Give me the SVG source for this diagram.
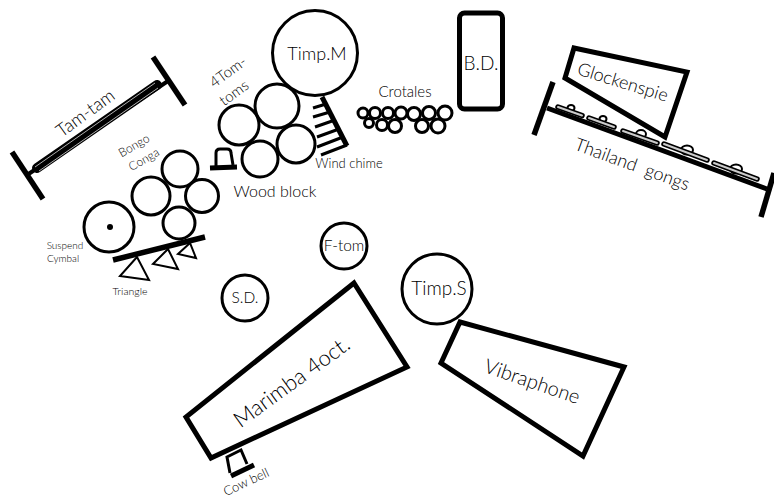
<svg xmlns="http://www.w3.org/2000/svg" width="774" height="500" viewBox="0 0 774 500">
<style>
text{font-family:"Lato","Liberation Sans",sans-serif;font-weight:300;fill:#000;text-anchor:middle}
.c{fill:none;stroke:#000;stroke-width:3}
.t{fill:none;stroke:#000;stroke-width:2}
.k{fill:none;stroke:#000;stroke-width:3}
.p{fill:none;stroke:#000;stroke-width:5}
.b{fill:none;stroke:#000;stroke-width:5.5}
.l{fill:none;stroke:#000;stroke-width:3}
.d{fill:#fff;stroke:#000;stroke-width:2}
.o{stroke:#000;stroke-width:5.5;stroke-linecap:round}
.i{stroke:#ccc;stroke-width:2;stroke-linecap:round}
</style>
<rect width="774" height="500" fill="#fff"/>
<g id="tam-tam">
<line class="b" x1="12" y1="152" x2="43" y2="199"/>
<line class="b" x1="153" y1="57" x2="185" y2="105"/>
<line x1="27" y1="175" x2="168" y2="81" stroke="#000" stroke-width="4"/>
<line x1="37" y1="168" x2="157" y2="85" stroke="#000" stroke-width="10" stroke-linecap="round"/>
<line x1="35" y1="167" x2="155" y2="83" stroke="#ddd" stroke-width="0.8"/>
<line x1="39" y1="171" x2="158" y2="88" stroke="#ddd" stroke-width="0.8"/>
<text transform="translate(89 118) rotate(-36)" font-size="18">Tam-tam</text>
</g>
<g id="bongo-conga">
<circle class="c" cx="151" cy="196" r="19"/>
<circle class="c" cx="180" cy="169" r="18"/>
<circle class="c" cx="202" cy="196" r="16.5"/>
<circle class="c" cx="179" cy="223" r="16"/>
<text transform="translate(136 149) rotate(-30)" font-size="12">Bongo</text>
<text transform="translate(146 163) rotate(-30)" font-size="12">Conga</text>
</g>
<g id="suspend-cymbal">
<circle class="c" cx="109" cy="227" r="25"/>
<circle cx="110" cy="227" r="3" fill="#000"/>
<text x="65" y="249" font-size="10">Suspend</text>
<text x="63" y="262" font-size="10">Cymbal</text>
</g>
<g id="triangle">
<line class="b" x1="113" y1="260" x2="205" y2="237"/>
<polygon class="t" points="137,257 120,276 149,280"/>
<polygon class="t" points="168,249 153,264 178,269"/>
<polygon class="t" points="190,243 178,254 196,258"/>
<text x="130" y="295" font-size="10.5">Triangle</text>
</g>
<g id="timp-m">
<circle class="c" cx="315" cy="53" r="42.5"/>
<text x="317" y="60" font-size="18">Timp.M</text>
</g>
<g id="tom-toms">
<circle class="c" cx="277" cy="106" r="22"/>
<circle class="c" cx="239" cy="125" r="20"/>
<circle class="c" cx="296" cy="144" r="19"/>
<circle class="c" cx="260" cy="159" r="18"/>
<text transform="translate(231 76) rotate(-36)" font-size="15">4Tom-</text>
<text transform="translate(237 97) rotate(-36)" font-size="15">toms</text>
</g>
<g id="wind-chime">
<line class="p" x1="322" y1="97" x2="347" y2="146"/>
<path class="l" d="M313 108L326 104M313 117L330 112M315 127L335 120M317 137L339 129M317 147L343 137M321 155L347 145"/>
<text x="349" y="168" font-size="13">Wind chime</text>
</g>
<g id="wood-block">
<line class="p" x1="210" y1="168" x2="237" y2="167"/>
<path class="l" d="M216 166V153Q216 149 220 149H227Q231 149 231 153L233 165"/>
<text x="275" y="197" font-size="16">Wood block</text>
</g>
<g id="crotales">
<circle class="k" cx="363" cy="113" r="5"/><circle class="k" cx="375" cy="113" r="5.500"/><circle class="k" cx="388" cy="113" r="5.500"/><circle class="k" cx="401" cy="113" r="6"/><circle class="k" cx="414" cy="114" r="6.500"/><circle class="k" cx="429" cy="113" r="6.500"/><circle class="k" cx="445" cy="113" r="7"/>
<circle class="k" cx="369" cy="123" r="4.500"/><circle class="k" cx="382" cy="125" r="5.500"/><circle class="k" cx="395" cy="126" r="6.500"/><circle class="k" cx="422" cy="126" r="6.500"/><circle class="k" cx="438" cy="126" r="7"/>
<text x="405" y="97" font-size="15">Crotales</text>
</g>
<g id="bass-drum">
<rect class="p" x="459.500" y="13" width="43" height="96" rx="5"/>
<text x="481" y="70" font-size="19">B.D.</text>
</g>
<g id="glockenspiel">
<polygon class="p" points="574,48 687,72 665,137 565,78"/>
<text transform="translate(621 88) rotate(17)" font-size="18">Glockenspie</text>
</g>
<g id="thailand-gongs">
<line class="b" x1="553" y1="82" x2="534" y2="135"/>
<line class="b" x1="774" y1="173" x2="761" y2="217"/>
<line class="p" x1="547" y1="108" x2="767" y2="189"/>
<ellipse class="d" cx="571" cy="108" rx="3.500" ry="3"/>
<ellipse class="d" cx="603" cy="119" rx="3.500" ry="3"/>
<ellipse class="d" cx="641" cy="134" rx="5" ry="4"/>
<ellipse class="d" cx="687" cy="150" rx="6" ry="4.500"/>
<ellipse class="d" cx="736" cy="169" rx="6" ry="4.500"/>
<line class="o" x1="558" y1="107" x2="582" y2="115.500"/>
<line class="o" x1="589" y1="118" x2="614" y2="127"/>
<line class="o" x1="623" y1="131" x2="657" y2="143"/>
<line class="o" x1="664" y1="144" x2="707" y2="160"/>
<line class="o" x1="714" y1="163" x2="757" y2="179"/>
<line class="i" x1="558" y1="107" x2="582" y2="115.500"/>
<line class="i" x1="589" y1="118" x2="614" y2="127"/>
<line class="i" x1="623" y1="131" x2="657" y2="143"/>
<line class="i" x1="664" y1="144" x2="707" y2="160"/>
<line class="i" x1="714" y1="163" x2="757" y2="179"/>
<text transform="translate(630 170) rotate(20)" font-size="18" xml:space="preserve">Thailand  gongs</text>
</g>
<g id="f-tom">
<circle class="c" cx="344" cy="246" r="23"/>
<text x="344" y="251" font-size="15.500">F-tom</text>
</g>
<g id="snare">
<circle class="c" cx="245" cy="298" r="23"/>
<text x="245" y="303" font-size="15.500">S.D.</text>
</g>
<g id="timp-s">
<circle class="c" cx="437" cy="289" r="35"/>
<text x="439" y="295" font-size="19">Timp.S</text>
</g>
<g id="marimba">
<polygon class="p" points="354,283 407,367 211,458 186,417"/>
<text transform="translate(296 388) rotate(-36)" font-size="22">Marimba 4oct.</text>
</g>
<g id="cow-bell">
<line class="p" x1="231" y1="476" x2="254" y2="465"/>
<path class="l" d="M230 473L227 457L241 450L247 464"/>
<text transform="translate(248 486) rotate(-25)" font-size="13">Cow bell</text>
</g>
<g id="vibraphone">
<polygon class="p" points="460,322 624,367 583,456 441,363"/>
<text transform="translate(530 388) rotate(19)" font-size="20">Vibraphone</text>
</g>
<g id="connectors"></g>
</svg>
